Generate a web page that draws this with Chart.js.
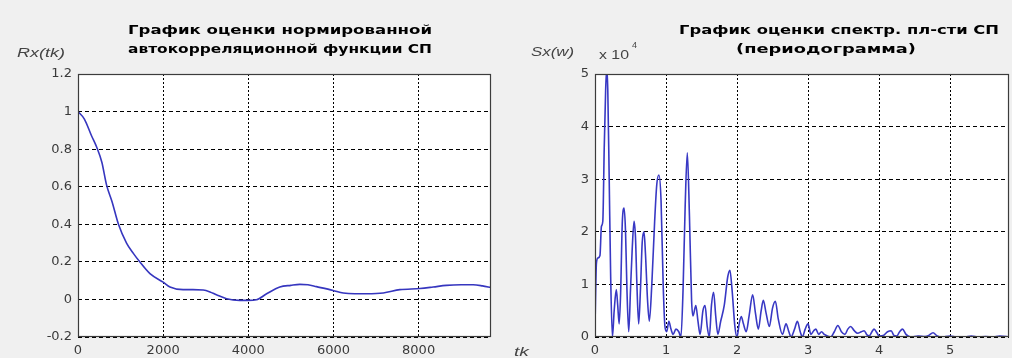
<!DOCTYPE html>
<html><head><meta charset="utf-8">
<script src="https://cdn.jsdelivr.net/npm/chart.js@4.4.1/dist/chart.umd.min.js"></script>
<style>
html,body{margin:0;padding:0;background:#f0f0f0;width:1012px;height:358px;overflow:hidden;}
.panel{position:absolute;top:0;width:506px;height:358px;}
.panel canvas{position:absolute;left:0;top:0;}
.txt{position:absolute;white-space:nowrap;transform-origin:0 0;line-height:15px;}
.title{font:bold 13px "DejaVu Sans";color:#000;}
.lab{font:italic 13px "Liberation Sans";color:#444;}
.sup{font:9px "Liberation Sans";color:#444;}
.mul{font:12px "Liberation Sans";color:#444;}
</style></head>
<body>
<div class="panel" style="left:0"><canvas id="cL" width="506" height="358"></canvas></div>
<div class="panel" style="left:506px"><canvas id="cR" width="506" height="358"></canvas></div>

<div class="txt title" id="tL1">График оценки нормированной</div>
<div class="txt title" id="tL2">автокорреляционной функции СП</div>
<div class="txt title" id="tR1">График оценки спектр. пл-сти СП</div>
<div class="txt title" id="tR2">(периодограмма)</div>
<div class="txt lab" id="lRx">Rx(tk)</div>
<div class="txt lab" id="lSx">Sx(w)</div>
<div class="txt mul" id="lMul">x 10</div>
<div class="txt sup" id="lExp">4</div>
<div class="txt lab" id="lTk">tk</div>

<script>
// ---- Data: normalized autocorrelation estimate ----
const acfX = [0, 150, 320, 440, 560, 670, 800, 950, 1140, 1300, 1450, 1690, 2000, 2160, 2470, 2700, 2940, 3100, 3250, 3490, 3800, 4000, 4190, 4430, 4740, 5000, 5210, 5400, 5600, 5990, 6230, 6500, 6780, 7170, 7560, 8030, 8340, 8650, 9000, 9280, 9500, 9700];
const acfY = [1.0, 0.96, 0.87, 0.81, 0.73, 0.61, 0.52, 0.40, 0.30, 0.245, 0.20, 0.137, 0.092, 0.066, 0.052, 0.052, 0.05, 0.04, 0.025, 0.004, -0.005, -0.005, -0.002, 0.03, 0.066, 0.075, 0.08, 0.078, 0.068, 0.048, 0.034, 0.03, 0.03, 0.034, 0.052, 0.058, 0.066, 0.075, 0.078, 0.078, 0.072, 0.063];
const acfXTicks = [0, 2000, 4000, 6000, 8000];
const acfXTickLabels = ['0', '2000', '4000', '6000', '8000'];
const acfYTicks = [-0.2, 0, 0.2, 0.4, 0.6, 0.8, 1.0, 1.2];
const acfYTickLabels = ['-0.2', '0', '0.2', '0.4', '0.6', '0.8', '1', '1.2'];

// ---- Data: periodogram (values in units of 10^4) ----
const psdX = [0.00,0.02,0.04,0.07,0.09,0.11,0.13,0.15,0.165,0.18,0.20,0.22,0.245,0.27,0.30,0.32,0.34,0.36,0.385,0.41,0.43,0.45,0.475,0.50,0.525,0.55,0.57,0.59,0.615,0.64,0.665,0.69,0.71,0.74,0.765,0.80,0.84,0.87,0.90,0.93,0.96,0.985,1.01,1.04,1.07,1.10,1.14,1.18,1.21,1.24,1.27,1.30,1.33,1.36,1.38,1.42,1.45,1.48,1.52,1.55,1.58,1.61,1.64,1.67,1.70,1.73,1.77,1.82,1.87,1.90,1.93,1.97,2.00,2.03,2.06,2.09,2.13,2.17,2.22,2.26,2.30,2.34,2.37,2.41,2.455,2.50,2.54,2.58,2.64,2.69,2.73,2.76,2.81,2.85,2.89,2.92,2.96,3.00,3.04,3.08,3.11,3.15,3.19,3.23,3.32,3.37,3.42,3.47,3.52,3.56,3.60,3.65,3.70,3.75,3.79,3.83,3.86,3.90,3.93,3.97,4.00,4.06,4.12,4.17,4.21,4.25,4.29,4.33,4.38,4.45,4.55,4.65,4.70,4.76,4.82,4.88,5.0,5.1,5.2,5.3,5.4,5.5,5.6,5.7,5.83];
const psdY = [0.2,1.4,1.5,1.55,2.1,2.2,3.6,4.7,5.1,4.7,3.0,1.2,0.0,0.5,0.9,0.6,0.25,0.8,2.2,2.45,2.0,0.9,0.1,0.9,1.7,2.2,1.9,1.0,0.25,0.9,1.8,2.0,1.6,0.7,0.3,1.0,2.2,2.9,3.08,2.6,1.0,0.2,0.1,0.3,0.15,0.05,0.15,0.1,0.0,0.9,2.5,3.5,2.3,0.7,0.4,0.6,0.3,0.05,0.5,0.6,0.2,0.0,0.6,0.85,0.4,0.05,0.3,0.6,1.15,1.27,0.9,0.2,0.0,0.25,0.39,0.25,0.1,0.4,0.8,0.45,0.15,0.5,0.7,0.45,0.2,0.55,0.68,0.35,0.05,0.25,0.1,0.0,0.15,0.3,0.1,0.0,0.15,0.25,0.05,0.12,0.15,0.05,0.1,0.05,0.0,0.1,0.22,0.1,0.05,0.15,0.2,0.12,0.07,0.1,0.12,0.04,0.02,0.1,0.15,0.08,0.02,0.03,0.1,0.12,0.03,0.02,0.1,0.15,0.05,0.0,0.02,0.01,0.03,0.08,0.02,0.0,0.02,0.0,0.0,0.02,0.0,0.01,0.0,0.02,0.0];
const psdXTicks = [0, 1, 2, 3, 4, 5];
const psdXTickLabels = ['0', '1', '2', '3', '4', '5'];
const psdYTicks = [0, 1, 2, 3, 4, 5];
const psdYTickLabels = ['0', '1', '2', '3', '4', '5'];

const tickFont = {family: 'DejaVu Sans', size: 13};
const tickColor = '#3a3a3a';

const framePlugin = {
  id: 'frame',
  beforeDraw(c) {
    const a = c.chartArea, g = c.ctx;
    g.save(); g.fillStyle = '#ffffff';
    g.fillRect(a.left, a.top, a.right - a.left, a.bottom - a.top);
    g.restore();
  },
  afterDraw(c) {
    const a = c.chartArea, g = c.ctx;
    g.save(); g.strokeStyle = '#3c3c3c'; g.lineWidth = 1.2;
    g.strokeRect(a.left + 0.5, a.top + 0.5, a.right - a.left - 1, a.bottom - a.top - 1);
    g.restore();
  }
};

function makeChart(id, xs, ys, xMax, yMin, yMax, xT, xL, yT, yL, pad, color) {
  return new Chart(document.getElementById(id), {
    type: 'line',
    data: {datasets: [{
      data: xs.map((x, i) => ({x: x, y: ys[i]})),
      borderColor: color, borderWidth: 1.6, pointRadius: 0,
      cubicInterpolationMode: 'monotone', fill: false
    }]},
    options: {
      responsive: false, animation: false, events: [],
      layout: {padding: pad},
      plugins: {legend: {display: false}, tooltip: {enabled: false}, title: {display: false}},
      scales: {
        x: {
          type: 'linear', min: 0, max: xMax,
          afterBuildTicks: s => { s.ticks = xT.map(v => ({value: v})); },
          afterFit: s => { s.height = 20; },
          grid: {color: '#000', lineWidth: 1, drawTicks: false},
          border: {display: false, dash: [2, 2]},
          ticks: {autoSkip: false, maxRotation: 0, padding: 6, color: tickColor, font: tickFont,
                  callback: (v, i) => xL[i]}
        },
        y: {
          type: 'linear', min: yMin, max: yMax,
          afterBuildTicks: s => { s.ticks = yT.map(v => ({value: v})); },
          afterFit: s => { s.width = 40; },
          grid: {color: '#000', lineWidth: 1, drawTicks: false},
          border: {display: false, dash: [4, 3]},
          ticks: {autoSkip: false, padding: 6, color: tickColor, font: tickFont,
                  callback: (v, i) => yL[i]}
        }
      }
    },
    plugins: [framePlugin]
  });
}

makeChart('cL', acfX, acfY, 9700, -0.2, 1.2, acfXTicks, acfXTickLabels, acfYTicks, acfYTickLabels,
  {left: 38, right: 15, top: 74, bottom: 1}, '#3636bf');
makeChart('cR', psdX, psdY, 5.83, 0, 5, psdXTicks, psdXTickLabels, psdYTicks, psdYTickLabels,
  {left: 49, right: 3, top: 74, bottom: 1}, '#3838c4');

function place(id, x, y, w) {
  const el = document.getElementById(id);
  el.style.left = x + 'px'; el.style.top = y + 'px';
  const r = el.getBoundingClientRect().width;
  if (w && r) el.style.transform = 'scaleX(' + (w / r) + ')';
}
place('tL1', 128, 22, 304);
place('tL2', 128, 41, 304);
place('tR1', 679, 22, 320);
place('tR2', 736, 41, 180);
place('lRx', 17, 45, 48);
place('lSx', 531, 44, 43);
place('lMul', 599, 48, 30);
place('lExp', 632, 40, 5);
place('lTk', 514, 344, 15);
</script>
</body></html>
